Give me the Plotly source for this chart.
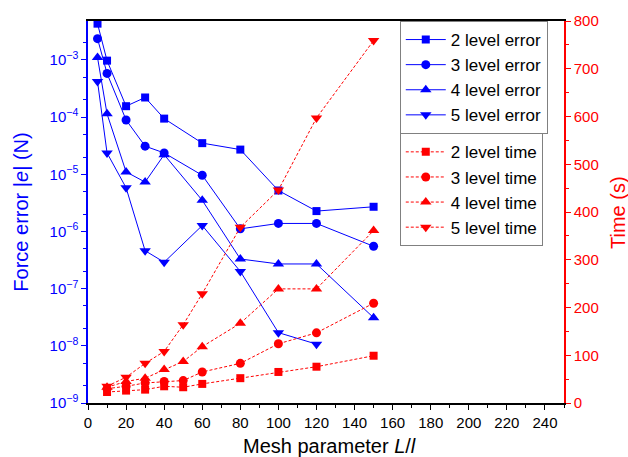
import plotly.graph_objects as go

mesh_err = [5, 10, 20, 30, 40, 60, 80, 100, 120, 150]
err2 = [4.3e-3, 9.7e-4, 1.55e-4, 2.2e-4, 9.4e-5, 3.5e-5, 2.7e-5, 5.2e-6, 2.27e-6, 2.7e-6]
err3 = [2.35e-3, 5.8e-4, 8.9e-5, 3.1e-5, 2.36e-5, 9.6e-6, 1.11e-6, 1.38e-6, 1.38e-6, 5.5e-7]
err4 = [1.1e-3, 1.14e-4, 1.1e-5, 7.3e-6, 2.2e-5, 3.5e-6, 3.3e-7, 2.7e-7, 2.7e-7, 3.1e-8]
mesh_err5 = [5, 10, 20, 30, 40, 60, 80, 100, 120]
err5 = [4.2e-4, 2.36e-5, 5.8e-6, 4.6e-7, 2.9e-7, 1.27e-6, 2.0e-7, 1.7e-8, 1.07e-8]

mesh_time = [10, 20, 30, 40, 50, 60, 80, 100, 120, 150]
time2 = [23, 26, 28, 35, 33, 40, 52, 65, 76, 99]
time3 = [30, 35, 42, 45, 47, 65, 83, 124, 147, 209]
time4 = [33, 45, 52, 70, 87, 118, 167, 239, 239, 361]
time5 = [35, 54, 83, 108, 164, 229, 368, 446, 597, 759]

log_ticks = [1e-9, 1e-8, 1e-7, 1e-6, 1e-5, 1e-4, 1e-3]
log_labels = ["10<sup>\u22129</sup>", "10<sup>\u22128</sup>", "10<sup>\u22127</sup>",
              "10<sup>\u22126</sup>", "10<sup>\u22125</sup>", "10<sup>\u22124</sup>",
              "10<sup>\u22123</sup>"]

BLUE = "#0000ff"
RED = "#ff0000"
FONT = "Arial, Liberation Sans, sans-serif"

fig = go.Figure()

err_series = [("2 level error", mesh_err, err2, "square", 8),
              ("3 level error", mesh_err, err3, "circle", 9),
              ("4 level error", mesh_err, err4, "triangle-up", 10),
              ("5 level error", mesh_err5, err5, "triangle-down", 10)]
for name, xs, ys, sym, sz in err_series:
    fig.add_trace(go.Scatter(x=xs, y=ys, name=name, mode="lines+markers",
                             line=dict(color=BLUE, width=1),
                             marker=dict(symbol=sym, size=sz, color=BLUE),
                             yaxis="y", legend="legend"))

time_series = [("2 level time", time2, "square", 8),
               ("3 level time", time3, "circle", 9),
               ("4 level time", time4, "triangle-up", 10),
               ("5 level time", time5, "triangle-down", 10)]
for name, ys, sym, sz in time_series:
    fig.add_trace(go.Scatter(x=mesh_time, y=ys, name=name, mode="lines+markers",
                             line=dict(color=RED, width=1, dash="3px,2px"),
                             marker=dict(symbol=sym, size=sz, color=RED),
                             yaxis="y2", legend="legend2"))

fig.update_layout(
    width=628, height=457,
    margin=dict(l=88, r=64, t=18, b=54),
    paper_bgcolor="white", plot_bgcolor="white",
    font=dict(family=FONT, size=15, color="black"),
    xaxis=dict(range=[0, 250], dtick=20, tick0=0, ticks="outside", ticklen=5,
               tickcolor="black", linecolor="black", linewidth=1.5, mirror=True,
               showgrid=False, zeroline=False,
               minor=dict(dtick=10, ticks="outside", ticklen=3, tickcolor="black"),
               tickfont=dict(size=15, color="black")),
    yaxis=dict(type="log", range=[-9, -2.32], tickvals=log_ticks, ticktext=log_labels,
               ticks="outside", ticklen=5, tickcolor=BLUE, linecolor=BLUE, linewidth=1.5,
               showgrid=False, zeroline=False,
               minor=dict(ticks="outside", ticklen=3, tickcolor=BLUE),
               tickfont=dict(size=15, color=BLUE),
               title=dict(text="Force error |<i>e</i>| (N)", font=dict(size=20, color=BLUE), standoff=16)),
    yaxis2=dict(overlaying="y", side="right", range=[0, 800], dtick=100,
                ticks="outside", ticklen=5, tickcolor=RED, linecolor=RED, linewidth=1.5,
                showgrid=False, zeroline=False,
                minor=dict(dtick=50, ticks="outside", ticklen=3, tickcolor=RED),
                tickfont=dict(size=15, color=RED)),
    annotations=[
        dict(text="Time (s)", xref="paper", yref="paper", x=1.1134, y=0.5,
             xanchor="center", yanchor="middle", textangle=-90, showarrow=False,
             font=dict(size=20, color=RED)),
        dict(text="Mesh parameter <i>L</i>/<i>l</i>", xref="paper", yref="paper",
             x=0.508, y=-0.112, xanchor="center", yanchor="middle", showarrow=False,
             font=dict(size=20, color="black")),
    ],
    legend=dict(x=0.655, y=1.0, xanchor="left", yanchor="top",
                bgcolor="white", bordercolor="#808080", borderwidth=1,
                font=dict(size=17, color="black"), itemwidth=40, tracegroupgap=0),
    legend2=dict(x=0.655, y=0.706, xanchor="left", yanchor="top",
                 bgcolor="white", bordercolor="#808080", borderwidth=1,
                 font=dict(size=17, color="black"), itemwidth=40, tracegroupgap=0),
)

fig.write_html("out.html")
